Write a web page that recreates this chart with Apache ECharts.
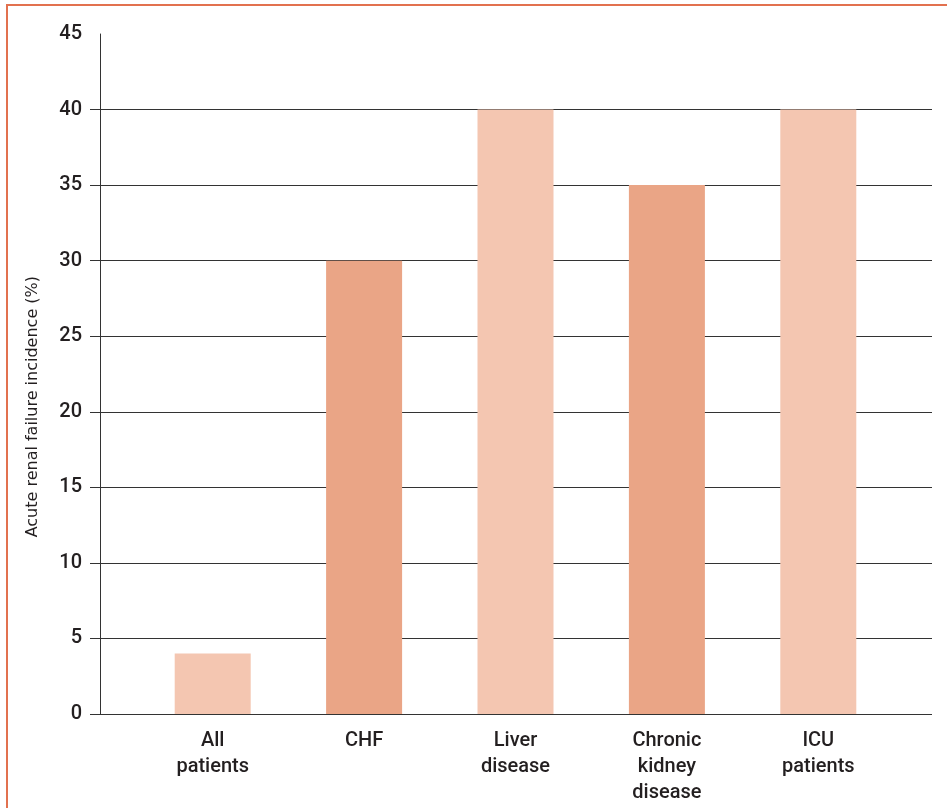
<!DOCTYPE html>
<html>
<head>
<meta charset="utf-8">
<script src="https://cdn.jsdelivr.net/npm/echarts@6/dist/echarts.min.js"></script>
<style>
  html, body { margin: 0; padding: 0; background: #fff; }
  #chart { width: 947px; height: 808px; position: relative; }
  #frame { position: absolute; left: 6px; top: 4px; right: -10px; bottom: -10px;
           border-left: 2px solid #e2714f; border-top: 2px solid #e2714f; pointer-events: none; }
</style>
</head>
<body>
<div id="chart"></div>
<div id="frame"></div>
<script>
const categories = ['All\npatients', 'CHF', 'Liver\ndisease', 'Chronic\nkidney\ndisease', 'ICU\npatients']
const values = [4, 30, 40, 35, 40]
const barColors = ['#f4c6b1', '#eaa586', '#f4c6b1', '#eaa586', '#f4c6b1']
const yTicks = [0, 5, 10, 15, 20, 25, 30, 35, 40, 45]
const yTitle = 'Acute renal failure incidence (%)'

const font = 'Roboto, "Liberation Sans", sans-serif'
const titleFont = '"DejaVu Sans", sans-serif'
const ink = '#231f20'
const lineColor = '#333333'

const chart = echarts.init(document.getElementById('chart'))

chart.setOption({
  backgroundColor: '#ffffff',
  animation: false,
  grid: [
    { left: 100, right: 15, top: 34, bottom: 94 },
    { left: 137, right: 53, top: 34, bottom: 94 },
  ],
  xAxis: [
    {
      type: 'category',
      gridIndex: 0,
      data: [''],
      axisLine: { show: false },
      axisTick: { show: false },
      axisLabel: { show: false },
    },
    {
      type: 'category',
      gridIndex: 1,
      data: categories,
      axisLine: { show: false },
      axisTick: { show: false },
      axisLabel: {
        color: ink,
        fontFamily: font,
        fontWeight: 500,
        fontSize: 20,
        lineHeight: 26,
        margin: 14,
        interval: 0,
      },
    },
  ],
  yAxis: [
    {
      type: 'value',
      gridIndex: 0,
      min: 0,
      max: 45,
      interval: 5,
      axisLine: { show: true, lineStyle: { color: lineColor, width: 1 } },
      axisTick: {
        show: true,
        inside: false,
        length: 10,
        customValues: yTicks.slice(0, -1),
        lineStyle: { color: lineColor, width: 1 },
      },
      axisLabel: {
        color: ink,
        fontFamily: font,
        fontWeight: 500,
        fontSize: 20,
        margin: 18,
        customValues: yTicks,
      },
      splitLine: {
        show: true,
        lineStyle: {
          color: yTicks.map((t) => (t === 45 ? 'rgba(0,0,0,0)' : lineColor)),
          width: 1,
        },
      },
    },
    {
      type: 'value',
      gridIndex: 1,
      min: 0,
      max: 45,
      interval: 5,
      show: false,
    },
  ],
  graphic: [
    {
      type: 'text',
      left: 25,
      top: 276,
      rotation: Math.PI / 2,
      style: {
        text: yTitle,
        fill: ink,
        font: '16px ' + titleFont,
      },
    },
  ],
  series: [
    {
      type: 'bar',
      xAxisIndex: 1,
      yAxisIndex: 1,
      barWidth: 76,
      data: values.map((v, i) => ({ value: v, itemStyle: { color: barColors[i] } })),
    },
    {
      type: 'line',
      xAxisIndex: 0,
      yAxisIndex: 0,
      data: [],
    },
  ],
})
</script>
</body>
</html>
